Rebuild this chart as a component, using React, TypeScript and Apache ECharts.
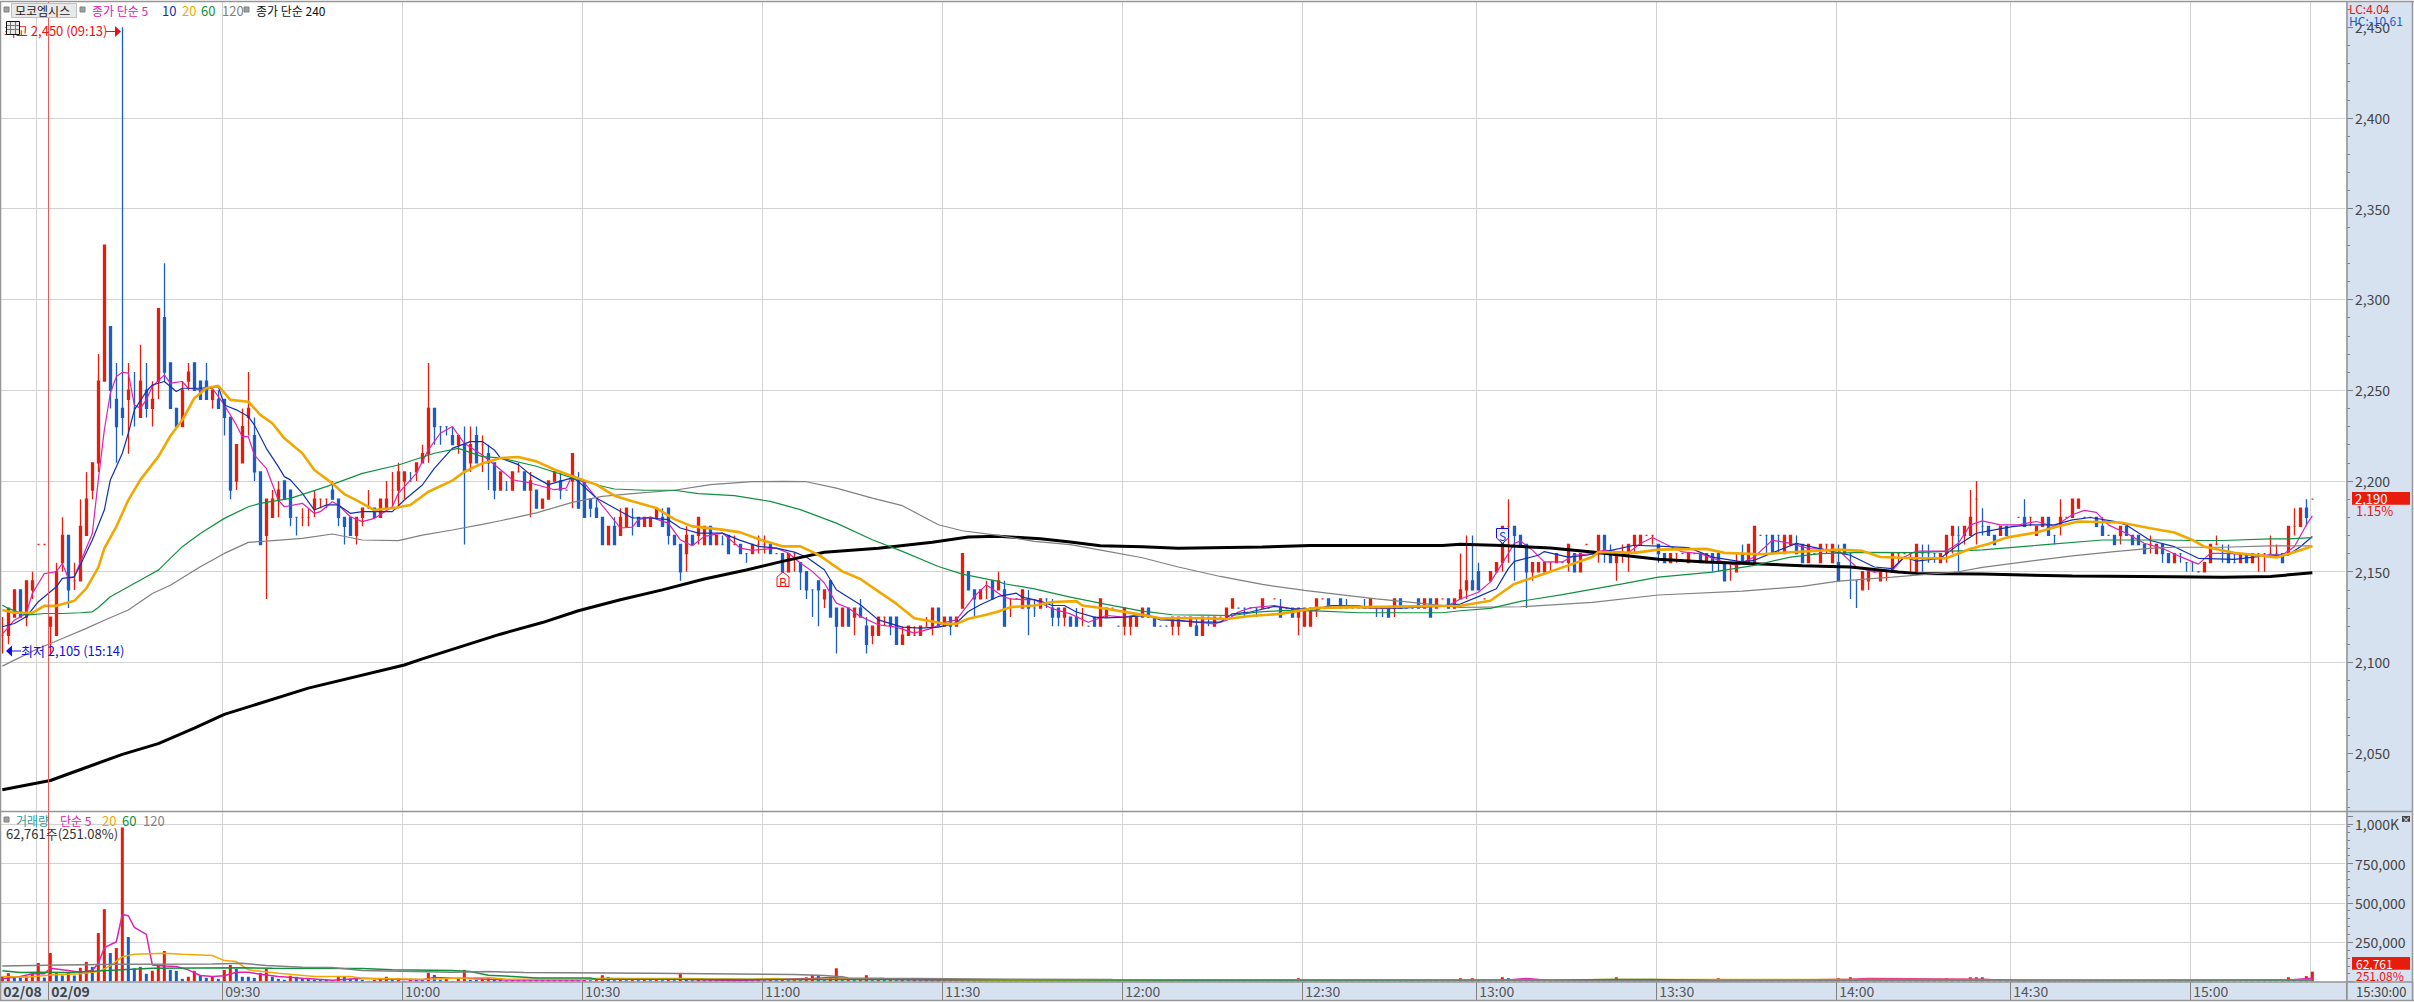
import React, { useEffect, useRef } from "react";
import * as echarts from "echarts";

// [open, close, high, low], ten bars per line
const candles: number[][] = [
[2115,2115,2125,2105],[2115,2130,2130,2110],[2125,2140,2140,2125],[2140,2125,2140,2125],[2125,2145,2145,2120],[2140,2145,2150,2135],[2165,2165,2165,2165],[2165,2165,2165,2165],[2120,2125,2125,2105],[2115,2150,2155,2115],
[2155,2170,2180,2150],[2170,2140,2170,2130],[2145,2145,2155,2140],[2145,2175,2190,2145],[2170,2190,2205,2170],[2195,2210,2210,2190],[2210,2255,2270,2205],[2255,2330,2330,2255],[2285,2250,2285,2240],[2245,2230,2265,2210],
[2240,2235,2450,2225],[2245,2250,2265,2215],[2240,2240,2260,2230],[2235,2255,2275,2235],[2250,2240,2265,2235],[2240,2245,2255,2230],[2255,2295,2295,2245],[2290,2260,2320,2255],[2265,2240,2265,2240],[2240,2230,2240,2230],
[2230,2250,2255,2230],[2255,2260,2265,2250],[2265,2250,2265,2250],[2255,2245,2255,2245],[2255,2245,2265,2245],[2245,2250,2250,2240],[2245,2240,2250,2240],[2245,2235,2245,2225],[2235,2195,2235,2190],[2200,2220,2220,2195],
[2210,2230,2240,2210],[2235,2240,2260,2225],[2225,2205,2235,2200],[2205,2165,2205,2165],[2170,2190,2190,2135],[2180,2190,2195,2180],[2190,2195,2200,2180],[2200,2190,2200,2190],[2195,2180,2195,2175],[2180,2180,2180,2170],
[2180,2180,2185,2175],[2180,2180,2185,2175],[2185,2190,2195,2180],[2190,2190,2190,2185],[2190,2190,2190,2185],[2195,2190,2200,2190],[2190,2180,2190,2175],[2180,2175,2180,2165],[2180,2170,2180,2170],[2170,2180,2180,2165],
[2180,2185,2185,2175],[2185,2185,2195,2185],[2185,2180,2185,2180],[2180,2190,2190,2180],[2185,2190,2200,2185],[2195,2195,2205,2185],[2195,2205,2210,2185],[2200,2205,2205,2190],[2200,2200,2205,2200],[2205,2210,2210,2200],
[2210,2215,2220,2210],[2215,2240,2265,2210],[2240,2230,2240,2220],[2230,2230,2230,2220],[2230,2230,2230,2225],[2225,2220,2230,2220],[2220,2225,2225,2215],[2220,2205,2230,2165],[2210,2220,2230,2205],[2225,2210,2230,2210],
[2220,2220,2225,2205],[2215,2210,2220,2195],[2210,2195,2210,2190],[2195,2205,2205,2195],[2195,2195,2200,2195],[2195,2205,2205,2195],[2205,2205,2210,2205],[2205,2195,2205,2195],[2195,2200,2205,2180],[2195,2185,2195,2185],
[2185,2190,2190,2185],[2190,2200,2200,2190],[2200,2205,2205,2200],[2200,2195,2205,2190],[2195,2195,2195,2195],[2200,2215,2215,2185],[2200,2185,2205,2185],[2200,2180,2200,2180],[2190,2185,2190,2180],[2185,2180,2190,2180],
[2180,2165,2180,2165],[2165,2175,2175,2165],[2175,2165,2180,2165],[2170,2180,2185,2170],[2175,2185,2185,2175],[2180,2180,2185,2170],[2180,2175,2180,2175],[2175,2180,2180,2175],[2175,2180,2180,2175],[2180,2185,2185,2180],
[2180,2175,2185,2175],[2185,2170,2185,2165],[2170,2165,2170,2165],[2165,2150,2165,2145],[2160,2170,2175,2150],[2170,2165,2170,2165],[2170,2180,2180,2165],[2165,2175,2175,2165],[2175,2165,2175,2165],[2165,2170,2170,2165],
[2165,2165,2170,2165],[2170,2160,2170,2160],[2165,2165,2170,2165],[2165,2160,2165,2160],[2160,2160,2160,2155],[2160,2165,2165,2160],[2165,2165,2170,2160],[2165,2165,2170,2160],[2165,2160,2165,2160],[2160,2160,2160,2160],
[2160,2150,2160,2150],[2150,2160,2160,2150],[2160,2160,2160,2150],[2155,2150,2155,2140],[2150,2140,2150,2135],[2140,2140,2140,2125],[2145,2140,2145,2120],[2135,2140,2140,2130],[2145,2125,2145,2125],[2130,2120,2130,2105],
[2120,2130,2130,2120],[2130,2120,2130,2120],[2125,2130,2130,2115],[2130,2125,2135,2125],[2120,2110,2125,2105],[2115,2120,2120,2110],[2115,2125,2125,2115],[2125,2125,2125,2120],[2125,2120,2125,2115],[2125,2110,2125,2110],
[2110,2115,2120,2110],[2115,2120,2120,2115],[2115,2115,2120,2115],[2115,2120,2120,2115],[2120,2120,2125,2120],[2120,2130,2130,2115],[2130,2120,2130,2120],[2120,2125,2125,2120],[2125,2120,2125,2115],[2120,2125,2125,2120],
[2130,2160,2160,2130],[2150,2140,2150,2140],[2140,2135,2140,2125],[2135,2140,2140,2135],[2140,2140,2145,2135],[2145,2135,2145,2135],[2140,2145,2150,2140],[2140,2120,2145,2120],[2135,2135,2135,2125],[2135,2135,2135,2135],
[2130,2140,2140,2130],[2135,2130,2140,2115],[2130,2130,2135,2125],[2130,2135,2135,2130],[2135,2135,2135,2130],[2130,2125,2135,2120],[2130,2125,2130,2120],[2125,2130,2130,2120],[2125,2120,2125,2120],[2125,2120,2130,2120],
[2125,2125,2130,2120],[2120,2120,2120,2120],[2125,2120,2125,2120],[2120,2135,2135,2120],[2125,2130,2130,2125],[2130,2130,2130,2130],[2120,2120,2120,2120],[2120,2130,2130,2115],[2120,2125,2125,2115],[2120,2125,2125,2120],
[2125,2130,2130,2125],[2130,2125,2130,2125],[2125,2120,2125,2120],[2120,2120,2120,2120],[2120,2120,2120,2120],[2120,2125,2125,2115],[2120,2125,2125,2115],[2125,2125,2125,2125],[2120,2125,2125,2120],[2120,2115,2125,2115],
[2115,2125,2125,2115],[2125,2125,2125,2120],[2120,2125,2125,2120],[2125,2125,2125,2125],[2125,2130,2130,2125],[2130,2135,2135,2130],[2130,2130,2130,2130],[2130,2130,2130,2125],[2130,2130,2130,2130],[2130,2130,2130,2125],
[2130,2135,2135,2130],[2130,2130,2130,2130],[2135,2135,2135,2135],[2130,2125,2135,2125],[2130,2130,2130,2130],[2130,2125,2130,2125],[2125,2130,2130,2115],[2120,2130,2130,2120],[2120,2130,2130,2120],[2130,2135,2135,2125],
[2135,2135,2135,2135],[2135,2130,2135,2130],[2130,2130,2130,2130],[2135,2130,2135,2130],[2130,2130,2135,2130],[2130,2130,2130,2130],[2130,2130,2130,2130],[2130,2130,2135,2130],[2130,2135,2135,2130],[2130,2130,2130,2125],
[2130,2130,2130,2125],[2130,2125,2130,2125],[2130,2135,2135,2125],[2135,2130,2135,2130],[2130,2130,2130,2130],[2130,2130,2130,2130],[2135,2130,2135,2130],[2130,2135,2135,2130],[2135,2125,2135,2125],[2130,2135,2135,2130],
[2135,2135,2135,2135],[2135,2130,2135,2130],[2130,2135,2135,2130],[2135,2140,2160,2135],[2140,2145,2170,2135],[2145,2140,2170,2140],[2150,2140,2155,2140],[2135,2135,2135,2135],[2145,2150,2150,2145],[2150,2155,2155,2150],
[2155,2175,2175,2150],[2175,2175,2190,2155],[2175,2170,2175,2145],[2170,2165,2170,2165],[2165,2150,2165,2130],[2150,2155,2155,2145],[2150,2155,2155,2150],[2150,2155,2155,2150],[2155,2155,2155,2150],[2155,2160,2160,2155],
[2155,2155,2155,2155],[2155,2165,2165,2150],[2160,2150,2160,2150],[2150,2160,2160,2150],[2165,2165,2165,2165],[2160,2160,2160,2160],[2160,2170,2170,2155],[2170,2160,2170,2155],[2160,2155,2165,2155],[2155,2160,2160,2145],
[2160,2160,2165,2155],[2160,2165,2165,2150],[2165,2170,2170,2160],[2165,2170,2170,2165],[2170,2170,2170,2170],[2170,2170,2170,2165],[2165,2160,2165,2155],[2160,2155,2160,2155],[2155,2160,2160,2155],[2160,2160,2160,2155],
[2160,2160,2160,2160],[2155,2160,2160,2155],[2160,2160,2160,2160],[2160,2155,2160,2155],[2155,2160,2160,2155],[2160,2155,2160,2150],[2160,2155,2160,2150],[2155,2145,2155,2145],[2155,2155,2155,2145],[2150,2155,2160,2150],
[2160,2155,2165,2155],[2155,2165,2165,2155],[2155,2175,2175,2155],[2170,2170,2170,2170],[2170,2170,2170,2160],[2170,2160,2170,2160],[2170,2170,2170,2160],[2160,2170,2170,2160],[2165,2170,2170,2165],[2165,2160,2170,2160],
[2165,2155,2165,2155],[2155,2165,2165,2155],[2160,2160,2160,2160],[2155,2165,2165,2155],[2165,2165,2165,2160],[2155,2165,2165,2155],[2155,2145,2165,2145],[2165,2160,2165,2160],[2160,2160,2160,2135],[2145,2145,2145,2130],
[2140,2150,2150,2140],[2145,2150,2150,2140],[2150,2150,2150,2150],[2145,2150,2150,2145],[2150,2150,2150,2145],[2150,2160,2160,2150],[2160,2160,2160,2155],[2160,2160,2160,2160],[2160,2160,2160,2150],[2150,2165,2165,2150],
[2160,2160,2165,2150],[2160,2160,2165,2155],[2160,2160,2160,2155],[2155,2160,2160,2155],[2160,2170,2170,2155],[2170,2175,2175,2160],[2170,2170,2175,2150],[2170,2175,2175,2165],[2170,2180,2195,2170],[2190,2190,2200,2165],
[2175,2175,2185,2170],[2175,2170,2175,2170],[2170,2165,2170,2165],[2170,2175,2175,2170],[2175,2170,2175,2170],[2175,2175,2175,2175],[2180,2180,2180,2180],[2180,2175,2190,2175],[2180,2180,2180,2175],[2170,2175,2175,2170],
[2175,2180,2180,2175],[2180,2170,2180,2170],[2170,2170,2170,2165],[2175,2180,2190,2170],[2180,2180,2180,2180],[2180,2190,2190,2180],[2185,2190,2190,2185],[2180,2180,2180,2180],[2180,2180,2180,2180],[2180,2175,2180,2175],
[2175,2170,2180,2170],[2170,2170,2170,2170],[2170,2165,2170,2165],[2170,2175,2175,2165],[2175,2170,2175,2170],[2170,2165,2170,2165],[2170,2165,2170,2165],[2165,2160,2165,2160],[2165,2165,2170,2160],[2160,2165,2165,2160],
[2165,2160,2165,2155],[2160,2155,2160,2155],[2155,2160,2160,2155],[2160,2160,2160,2155],[2155,2155,2155,2150],[2155,2155,2155,2150],[2150,2150,2150,2150],[2150,2155,2155,2150],[2155,2165,2165,2155],[2165,2165,2170,2165],
[2160,2160,2165,2155],[2160,2155,2165,2155],[2155,2155,2160,2155],[2155,2160,2160,2155],[2160,2155,2160,2155],[2155,2160,2160,2155],[2160,2160,2160,2150],[2160,2160,2160,2150],[2160,2160,2170,2160],[2160,2160,2165,2160],
[2160,2155,2160,2155],[2160,2175,2175,2160],[2175,2175,2185,2170],[2175,2185,2185,2175],[2185,2180,2190,2175],[2190,2190,2190,2190],
];

// bars whose open equals close and which the chart draws in blue
const blueDoji = [22,49,68,73,74,84,94,105,120,124,129,135,172,174,181,186,193,194,201,206,207,208,209,211,222,224,225,226,227,229,230,234,235,260,280,293,294,296,302,308,309,320,321,322,326,330,342,347,348,351,363,364,365,366,370,372];

// volume in thousands of shares, ten bars per line
const volumesK = [
32,53,25,25,32,53,118,25,181,53,
38,59,38,87,124,93,308,460,181,213,
980,283,84,93,49,68,105,194,74,68,
17,30,68,38,23,30,17,74,105,80,
30,30,23,55,80,30,17,11,36,30,
17,17,11,11,11,4,30,30,17,17,
11,4,11,17,30,11,23,4,11,11,
11,55,42,11,17,4,17,74,11,11,
17,23,17,17,8,9,8,9,8,9,
8,9,8,9,8,9,8,9,8,9,
40,27,8,9,8,9,8,9,8,9,
8,9,8,48,15,8,15,8,9,8,
9,8,9,8,9,8,9,8,9,8,
9,8,9,8,27,42,42,8,27,84,
8,9,8,9,40,8,9,8,9,8,
9,8,9,8,9,8,9,8,9,8,
9,8,9,8,9,8,9,8,9,8,
6,7,6,7,6,7,6,7,6,7,
6,7,6,7,6,7,6,7,6,7,
4,4,4,4,4,4,4,4,4,4,
4,4,4,4,4,4,4,4,4,4,
4,4,4,4,4,4,21,4,4,4,
4,4,4,4,4,4,4,4,4,4,
4,4,4,4,4,4,4,4,4,4,
4,4,4,21,4,21,4,4,4,4,
27,21,6,6,12,6,6,4,4,4,
4,4,4,4,4,4,4,4,4,27,
4,4,4,4,4,4,4,4,4,4,
4,4,4,4,4,4,21,4,4,4,
4,4,15,4,4,4,4,4,4,4,
4,4,4,4,4,4,21,6,27,8,
6,7,6,7,6,7,6,7,6,7,
6,7,6,7,21,6,7,6,27,27,
27,8,7,8,7,6,7,6,7,6,
7,6,7,6,7,6,7,6,7,6,
7,6,7,6,7,6,7,6,7,6,
7,6,7,6,7,6,7,6,7,6,
7,6,7,6,7,6,7,6,7,6,
7,27,6,7,34,62.761,
];

// moving averages as [bar, price]
const ma5 = [[0,2115.6],[2,2123.3],[4,2127],[5,2138],[7,2149],[9,2150],[10,2154.6],[11,2146.3],[12,2147.2],[15,2171.1],[16,2200.6],[17,2228.1],[18,2248.3],[19,2257.5],[20,2259.9],[21,2259.4],[22,2241.9],[23,2240],[24,2244.7],[25,2252],[27,2258.5],[28,2253.9],[30,2254.8],[31,2251.1],[33,2250.2],[35,2251.1],[37,2241.9],[39,2230.9],[40,2224.4],[41,2224.4],[42,2214.3],[44,2207],[46,2189.5],[47,2185.8],[50,2187.7],[52,2182.2],[53,2183.1],[55,2188.6],[56,2186.8],[58,2180.3],[60,2177.6],[62,2179.4],[65,2185.8],[66,2193.2],[69,2204.2],[71,2217.1],[73,2226.3],[75,2230],[77,2220.8],[80,2214.3],[83,2206.3],[85,2200.7],[88,2198.9],[92,2195.2],[94,2196.1],[95,2203.5],[97,2198.9],[99,2190.6],[101,2182.4],[103,2174.1],[105,2174.6],[106,2178.7],[108,2180.1],[111,2176.8],[113,2167.6],[115,2164.3],[117,2169.5],[120,2171.3],[123,2163],[125,2161.8],[129,2163],[131,2160.3],[133,2154.8],[135,2150.2],[137,2143.8],[139,2132.7],[141,2130],[143,2125.4],[146,2120.8],[149,2119.5],[152,2116.2],[155,2118.9],[157,2122],[159,2123.5],[162,2136.4],[164,2142.8],[166,2138.2],[167,2136],[168,2135.1],[170,2134.6],[172,2134.6],[175,2129.6],[178,2126.8],[181,2122.2],[184,2125.9],[187,2125],[190,2126.8],[192,2125],[195,2123.2],[199,2122.2],[202,2121.3],[204,2123.2],[206,2127.8],[208,2130.1],[212,2131.4],[216,2129],[219,2128.7],[221,2131.4],[226,2131.4],[229,2129.6],[232,2130.1],[238,2130.9],[241,2131.4],[243,2135],[246,2138.7],[248,2144.3],[250,2154.6],[252,2165.6],[253,2167],[255,2161.9],[257,2155.4],[260,2155.4],[262,2159.1],[265,2160],[267,2161.9],[271,2160.4],[273,2165.6],[275,2168.9],[277,2165.6],[280,2160.9],[283,2160],[286,2156.3],[289,2153.5],[292,2158.1],[295,2167.4],[298,2165.6],[301,2162.8],[306,2161.9],[309,2152.6],[312,2149.8],[315,2150.7],[317,2158.1],[319,2161.4],[324,2161.4],[326,2165.7],[328,2175.8],[330,2178],[333,2175.8],[336,2175.8],[339,2177.7],[342,2174.9],[345,2181.4],[347,2183.8],[349,2182.7],[351,2175.8],[354,2171.2],[357,2165.7],[360,2162.9],[363,2158.3],[366,2154.2],[368,2160.1],[371,2160.1],[375,2159.2],[380,2159.2],[382,2163.8],[384,2175.8],[385,2180.8]];
const ma10 = [[0,2119.7],[2,2121.5],[4,2125.2],[6,2133.5],[7,2136.2],[9,2141.7],[10,2146.3],[12,2147.2],[13,2153.7],[15,2167.5],[17,2184],[18,2200.6],[19,2207.9],[20,2215.3],[21,2226.3],[22,2239.2],[24,2249.3],[25,2252.9],[27,2254.8],[29,2249.3],[30,2251.1],[33,2251.1],[36,2252],[37,2241.9],[39,2239.2],[41,2235.5],[42,2230.9],[44,2218],[46,2207.9],[47,2202.4],[48,2200.6],[50,2193.2],[52,2184],[54,2186.8],[56,2186.8],[58,2182.2],[60,2183.1],[65,2183.1],[67,2189.5],[70,2197.8],[72,2207],[75,2218],[78,2221.7],[80,2221.7],[82,2217.1],[83,2212.7],[86,2209],[88,2203.5],[91,2198],[95,2201.7],[96,2199.8],[99,2190.6],[102,2185.1],[105,2179.6],[108,2179.6],[111,2178.7],[113,2174.1],[116,2171.3],[120,2171.3],[123,2167.3],[126,2164],[129,2163],[132,2160.8],[134,2158.1],[137,2151.1],[139,2140.1],[143,2131.8],[146,2123.5],[150,2119.5],[153,2118.9],[156,2119.5],[159,2121.7],[161,2128.1],[163,2131.8],[166,2136.4],[167,2137],[169,2138.2],[170,2136],[173,2133.8],[175,2131.4],[177,2131.4],[179,2127.8],[182,2125],[184,2124.6],[187,2125],[191,2125.9],[193,2123.5],[196,2123.2],[199,2122.2],[203,2122.2],[205,2126.8],[208,2127.8],[212,2130.9],[215,2129.6],[219,2129.6],[222,2131.4],[227,2130.1],[233,2130],[239,2130.9],[243,2132.2],[246,2136.3],[249,2140.6],[251,2151.7],[252,2155.7],[256,2159.1],[257,2161.1],[261,2158.1],[264,2159.1],[267,2160.9],[272,2164.6],[276,2164.1],[281,2163.3],[285,2158.1],[290,2155.4],[292,2156.3],[295,2160.4],[299,2165.6],[304,2161.9],[308,2159.1],[312,2152.6],[315,2151.7],[317,2158.1],[319,2155.9],[323,2157.4],[326,2164.8],[329,2171.2],[332,2173.1],[335,2174.9],[338,2175.8],[342,2175.8],[345,2178.6],[348,2179.9],[352,2177.7],[354,2175.8],[358,2167.2],[362,2163.8],[366,2157.4],[372,2156.8],[378,2159.2],[381,2159.2],[383,2163.8],[385,2169.4]];
const ma20 = [[0,2128.9],[2,2127.4],[5,2127.4],[7,2131.2],[9,2131.2],[12,2134],[14,2140.8],[16,2152.4],[17,2162.9],[19,2174.8],[21,2189.5],[23,2200.6],[26,2213.4],[28,2224.8],[30,2233.6],[32,2245.6],[34,2251.1],[36,2252.4],[38,2244.7],[41,2243.7],[43,2236.4],[45,2231.8],[47,2223.5],[50,2215.3],[52,2206.1],[55,2198.7],[57,2192.8],[59,2189.5],[62,2184],[65,2185],[68,2186.8],[71,2194.1],[75,2200.2],[77,2205.1],[80,2209.7],[83,2212.7],[86,2213.2],[89,2210.8],[92,2206.3],[95,2202.6],[99,2198],[102,2191.9],[105,2188.8],[109,2185.1],[112,2179],[115,2175],[120,2173.2],[123,2171.7],[126,2168],[130,2164],[133,2164],[136,2159.4],[140,2150.2],[143,2146],[146,2139.2],[149,2132.4],[152,2124.4],[157,2121.3],[159,2121.3],[161,2124.1],[164,2126.3],[166,2128.1],[168,2130.5],[172,2131.4],[175,2133.3],[179,2133.8],[180,2131.4],[184,2129.6],[189,2126.8],[193,2124.4],[200,2124.4],[204,2124],[208,2125.6],[213,2126.8],[219,2130.1],[227,2130.5],[235,2130.9],[243,2131.3],[248,2134],[250,2138.7],[252,2143.3],[257,2148.9],[261,2153.5],[265,2158.1],[266,2160.9],[272,2160.4],[276,2162.2],[284,2162.6],[287,2160.4],[293,2159.6],[298,2160.7],[306,2162.2],[310,2161.5],[313,2158.1],[319,2157.4],[324,2157.4],[328,2162.7],[331,2165.3],[334,2168.8],[339,2171.6],[343,2175.3],[346,2177.7],[353,2177.1],[358,2174],[362,2171.6],[365,2167.5],[367,2163.8],[372,2160.5],[379,2157.9],[381,2159.8],[384,2162.9],[385,2164.2]];
const ma60 = [[0,2131.6],[1,2129.8],[4,2126.1],[7,2127],[10,2127],[13,2127.4],[15,2127.9],[16,2130.3],[18,2136.2],[21,2141.7],[24,2147.2],[26,2150.9],[30,2163.8],[33,2171.1],[37,2179.4],[41,2185.8],[43,2187.7],[48,2190.4],[54,2196.9],[60,2204.2],[66,2208.8],[72,2215.3],[76,2218],[80,2213.4],[83,2212.7],[89,2208.1],[95,2201.7],[100,2197.1],[102,2195.6],[107,2194.9],[112,2194.9],[116,2193],[122,2191.9],[128,2188.8],[133,2184.2],[139,2176.8],[145,2167.6],[150,2161.2],[156,2152.9],[160,2148.7],[166,2144.7],[167,2143.4],[172,2140.6],[178,2136],[184,2132],[190,2128.3],[195,2126.3],[200,2126.1],[205,2125.9],[209,2127.8],[214,2128.7],[220,2128.3],[226,2127.4],[240,2127.4],[243,2128.5],[248,2129.8],[253,2133.7],[260,2137.4],[270,2143.3],[276,2147],[285,2149.8],[292,2153.5],[298,2158.1],[303,2160],[310,2160.7],[319,2160.5],[330,2162],[340,2164.8],[350,2167.5],[360,2167.5],[365,2167.2],[370,2167.2],[378,2168.1],[381,2168.1],[385,2168.8]];
const ma120 = [[0,2098],[2,2101.3],[6,2107.7],[10,2113.2],[14,2118.8],[17,2123.3],[21,2128.9],[25,2138],[28,2142.6],[33,2152.8],[37,2160.1],[41,2166.2],[44,2166.9],[50,2168.4],[55,2170.8],[60,2167.5],[66,2167.1],[70,2170.2],[75,2173],[80,2176.1],[83,2178.1],[89,2182.4],[95,2188.2],[100,2191.5],[105,2193],[112,2194.9],[118,2198],[125,2199.6],[130,2199.8],[134,2199.6],[139,2196.1],[145,2190.6],[150,2186.4],[156,2175.9],[160,2172.6],[166,2170],[172,2166.7],[178,2164.9],[184,2161.4],[190,2157.7],[196,2152.6],[203,2147.4],[210,2143],[217,2139.7],[224,2137],[229,2135.1],[237,2132.4],[243,2130.4],[253,2130.7],[265,2133.1],[276,2137.2],[290,2139.3],[300,2141.9],[306,2144.8],[315,2147],[326,2150],[330,2152.4],[338,2155.9],[345,2158.7],[352,2161.1],[358,2162.9],[362,2163.5],[370,2163.5],[378,2164.2],[385,2164.2]];
const ma240 = [[0,2029.9],[8,2035],[15,2043.4],[20,2049.4],[26,2055.3],[32,2063.8],[37,2071.4],[51,2085.9],[67,2098.6],[70,2102],[83,2115.6],[90,2122],[96,2128.5],[103,2134.6],[110,2140],[117,2146],[124,2151],[130,2155.7],[137,2160.7],[146,2163],[155,2166.2],[161,2169.1],[166,2169.5],[173,2168.2],[178,2166.4],[183,2164.3],[190,2163.8],[196,2162.9],[210,2163.6],[218,2164.5],[240,2164.5],[243,2165.2],[250,2164.4],[258,2163.1],[265,2160.9],[270,2159.1],[276,2156.9],[284,2155.4],[292,2154.4],[300,2153.3],[308,2152.6],[316,2149.8],[319,2149.1],[330,2148.7],[345,2147.6],[362,2147.2],[370,2147],[378,2147.4],[385,2149.4]];

// volume moving averages as [bar, thousand shares]
const vma5 = [[0,17],[3,32],[5,49],[7,49],[8,84],[10,74],[13,59],[15,70],[16,116],[17,215],[19,253],[20,426],[21,418],[22,344],[24,300],[25,105],[27,99],[29,95],[31,74],[33,38],[35,32],[37,36],[39,59],[41,59],[43,46],[46,32],[50,21],[55,8],[60,21],[65,15],[70,11],[72,25],[75,21],[77,21],[81,15],[84,10],[96,10],[100,19],[113,15],[122,6],[135,19],[138,25],[141,19],[155,10],[164,6],[250,6],[254,19],[258,6],[287,4],[308,15],[311,19],[330,15],[336,4],[360,4],[381,10],[385,21]];
const vma20 = [[0,32],[4,27],[8,42],[13,49],[16,63],[18,99],[20,158],[22,173],[27,179],[30,173],[35,165],[37,133],[39,127],[41,74],[46,53],[52,32],[58,32],[60,21],[70,15],[81,25],[84,15],[97,15],[99,19],[113,19],[117,17],[125,15],[129,19],[131,13],[147,17],[169,6],[185,4],[199,4],[258,10],[268,13],[310,13],[330,13],[334,8],[349,6],[370,8],[385,10]];
const vma60 = [[0,68],[3,57],[6,59],[11,57],[20,74],[25,84],[40,87],[45,84],[60,82],[65,74],[75,70],[78,63],[81,40],[85,32],[89,23],[98,23],[99,15],[126,13],[168,11],[198,8],[258,8],[268,13],[275,13],[285,6],[310,8],[385,8]];
const vma120 = [[0,99],[10,105],[20,110],[35,112],[40,116],[44,101],[50,91],[55,89],[60,70],[75,59],[81,63],[87,57],[108,53],[132,44],[137,38],[140,30],[141,23],[147,21],[168,15],[185,13],[275,6],[300,6],[385,10]];

// tick labels of the time axis: the bar each sits on, and its text
const timeBars = [0, 8, 37, 67, 97, 127, 157, 187, 217, 246, 276, 306, 335, 365];
const timeLabels = ["02/08", "02/09", "09:30", "10:00", "10:30", "11:00", "11:30", "12:00", "12:30", "13:00", "13:30", "14:00", "14:30", "15:00"];
const extraGridBars = [6, 385];

const priceTicks = [2050, 2100, 2150, 2200, 2250, 2300, 2350, 2400, 2450];

const RED = "#e81c0c";
const BLUE = "#1a5cc8";
const PANEL = "#d6e2f0";
const EDGE = "#969696";
const GRIDLINE = "#d2d2d2";
const LATIN = '"Liberation Sans Narrow","Noto Sans CJK KR"';

const BAR_COUNT = 391;
const barNames = Array.from({ length: BAR_COUNT }, (_, i) => String(i));
const gridCategories = barNames.map((n, i) => {
  const at = timeBars.indexOf(i);
  if (at < 0) return { value: "" };
  return at < 2
    ? { value: timeLabels[at], textStyle: { fontWeight: "bold", fontSize: 14, color: "#444", align: "left", fontFamily: LATIN } }
    : { value: timeLabels[at] };
});

function text(x: number, y: number, s: string, fill: string, size = 13, align = "left") {
  return {
    type: "text", x, y, z: 60, silent: true,
    style: { text: s, fill, font: `${size}px ${LATIN}`, textAlign: align, textVerticalAlign: "middle" },
  };
}
function rect(x: number, y: number, w: number, h: number, fill: string, z = 60, stroke?: string) {
  return { type: "rect", z, silent: true, shape: { x, y, width: w, height: h }, style: { fill, stroke, lineWidth: stroke ? 1 : 0 } };
}
function hv(x1: number, y1: number, x2: number, y2: number, stroke: string, z = 55, lineWidth = 1) {
  return { type: "line", z, silent: true, shape: { x1, y1, x2, y2 }, style: { stroke, lineWidth } };
}
function poly(points: number[][], fill: string, stroke?: string, z = 60) {
  return { type: "polygon", z, silent: true, shape: { points }, style: { fill, stroke, lineWidth: stroke ? 1 : 0 } };
}
function legendSquare(x: number, y: number) {
  return rect(x, y, 5, 5, "#a0a0a0", 60, "#808080");
}

const graphicElements: any[] = [
  rect(2347, 1, 66, 981, PANEL, -1),
  rect(0, 982, 2414, 19, PANEL, -1),
  hv(48.5, 1, 48.5, 982, "#e85a5a", 40),
  hv(0, 1.5, 2414, 1.5, EDGE, 55, 1.5),
  hv(0.5, 1, 0.5, 1001, EDGE, 55, 1.5),
  hv(2412.5, 1, 2412.5, 1001, EDGE, 55, 1.5),
  hv(0, 1000.5, 2414, 1000.5, EDGE, 55, 1.5),
  hv(0, 811.5, 2413, 811.5, EDGE, 55, 1.5),
  hv(0, 982, 2413, 982, EDGE, 55, 1.5),
  hv(2347, 1, 2347, 1001, EDGE, 55, 1.5),

  legendSquare(4, 7),
  rect(11.5, 3.5, 65, 14, "#e9e9e9", 60, "#c0c0c0"),
  text(15, 10.5, "모코엠시스", "#222", 12),
  legendSquare(80, 7),
  text(92, 10.5, "종가 단순 5", "#e020b0", 12),
  text(162, 10.5, "10", "#1030b0", 13),
  text(182, 10.5, "20", "#f0a800", 13),
  text(201, 10.5, "60", "#109040", 13),
  text(222, 10.5, "120", "#808080", 13),
  legendSquare(244, 7),
  text(256, 10.5, "종가 단순 240", "#111", 12),

  text(4, 30.5, "최고 2,450 (09:13)", "#f01010", 13),
  hv(106, 31.5, 116, 31.5, "#f01010", 60),
  poly([[115, 26], [121, 31.5], [115, 37]], "#f01010"),
  rect(6.5, 21.5, 13, 13, "#e8e8e8", 62, "#111"),
  hv(7, 25.5, 19, 25.5, "#777", 63),
  hv(7, 29.5, 19, 29.5, "#777", 63),
  hv(10.5, 22, 10.5, 34, "#777", 63),
  hv(15.5, 22, 15.5, 34, "#777", 63),

  poly([[6, 651], [12, 645.5], [12, 656.5]], "#1010e0"),
  hv(12, 651, 21, 651, "#1010e0", 60),
  text(21, 650.5, "최저 2,105 (15:14)", "#1010e0", 13),

  poly([[783, 572], [789, 577], [789, 586.5], [777, 586.5], [777, 577]], "#fff", "#f01010"),
  text(783, 581, "B", "#f01010", 12, "center"),
  poly([[1496.5, 528.5], [1508.5, 528.5], [1508.5, 538], [1502.5, 543.5], [1496.5, 538]], "#eef0ff", "#1010e0"),
  text(1502.5, 535, "S", "#2040d0", 12, "center"),

  text(2349, 8, "LC:4.04", "#f01010", 12),
  text(2349, 20.5, "HC:-10.61", "#1a5cc8", 12),

  rect(2352, 492, 58, 12.7, RED),
  text(2355, 498.3, "2,190", "#fff", 13),
  text(2356, 510.5, "1.15%", "#f01010", 13),

  text(16, 820, "거래량", "#2a9a9a", 12),
  legendSquare(4, 817),
  text(60, 820, "단순 5", "#e020b0", 12),
  text(102, 820, "20", "#f0a800", 13),
  text(122, 820, "60", "#109040", 13),
  text(143, 820, "120", "#808080", 13),
  text(6, 833.5, "62,761주(251.08%)", "#333", 13),

  rect(2352, 957, 58, 12.7, RED),
  text(2356, 963, "62,761", "#fff", 12),
  text(2356, 975, "251.08%", "#f01010", 12),

  rect(2402, 816, 8, 6, "#444"),
  text(2406, 819, "×", "#fff", 9, "center"),

  text(2356, 991.5, "15:30:00", "#444", 13),
];

const candleRows = candles.map((row, i) => {
  const [o, c, h, l] = row;
  const item: any = { value: [o, c, l, h] };
  if (o === c) {
    const colour = blueDoji.includes(i) ? BLUE : RED;
    item.itemStyle = { color: colour, color0: colour, borderColor: colour, borderColor0: colour };
  }
  return item;
});

// a volume bar is red when it is larger than the one before it, blue otherwise
const volumeRows = volumesK.map((v, i) => ({
  value: v * 1000,
  itemStyle: { color: i === 0 || v > volumesK[i - 1] ? RED : BLUE },
}));

function maSeries(name: string, data: number[][], color: string, width: number, xi: number, scale = 1) {
  return {
    type: "line", name, xAxisIndex: xi, yAxisIndex: xi, symbol: "none", silent: true, z: 5,
    data: data.map(([k, v]) => [k, v * scale]),
    lineStyle: { color, width },
  };
}

const option: any = {
  animation: false,
  backgroundColor: "#ffffff",
  textStyle: { fontFamily: LATIN },
  grid: [
    { left: -0.67, top: 2, width: 2346, height: 842, outerBoundsMode: "none" },
    { left: -0.67, top: 816.4, width: 2346, height: 165.1, outerBoundsMode: "none" },
    { left: 0.33, top: 2, width: 2346, height: 980, outerBoundsMode: "none" },
  ],
  xAxis: [
    { type: "category", gridIndex: 0, data: barNames, show: false, boundaryGap: true },
    { type: "category", gridIndex: 1, data: barNames, show: false, boundaryGap: true },
    {
      type: "category", gridIndex: 2, data: gridCategories, boundaryGap: true, position: "bottom",
      axisLine: { show: false },
      axisTick: {
        show: true, length: 19, lineStyle: { color: "#808080", width: 1 },
        interval: (i: number) => timeBars.includes(i) && i !== 0,
      },
      axisLabel: {
        show: true, interval: (i: number) => timeBars.includes(i), align: "left", margin: 2,
        fontFamily: LATIN, fontSize: 14, color: "#555", hideOverlap: false,
      },
      splitLine: {
        show: true, lineStyle: { color: GRIDLINE, width: 1 },
        interval: (i: number) => i !== 0 && (timeBars.includes(i) || extraGridBars.includes(i)),
      },
    },
  ],
  yAxis: [
    {
      type: "value", gridIndex: 0, position: "right", offset: 1.67, min: 2000, max: 2463.9, interval: 50,
      axisLine: { show: false },
      axisTick: { show: true, length: 6, customValues: priceTicks, lineStyle: { color: "#808080" } },
      minorTick: { show: true, splitNumber: 5, length: 3, lineStyle: { color: "#808080" } },
      axisLabel: {
        margin: 8, color: "#444", fontFamily: LATIN, fontSize: 14, showMinLabel: false, showMaxLabel: false,
        formatter: (v: number) => (v % 50 === 0 && v > 2000 ? v.toLocaleString("en-US") : ""),
      },
      splitLine: { show: true, showMinLine: false, showMaxLine: false, lineStyle: { color: GRIDLINE, width: 1 } },
    },
    {
      type: "value", gridIndex: 1, position: "right", offset: 1.67, min: 0, max: 1050000, interval: 250000,
      axisLine: { show: false },
      axisTick: { show: true, length: 6, lineStyle: { color: "#808080" } },
      minorTick: { show: true, splitNumber: 5, length: 3, lineStyle: { color: "#808080" } },
      axisLabel: {
        margin: 8, color: "#444", fontFamily: LATIN, fontSize: 14, showMinLabel: false, showMaxLabel: false,
        formatter: (v: number) => (v === 1000000 ? "1,000K" : v % 250000 === 0 && v > 0 ? v.toLocaleString("en-US") : ""),
      },
      splitLine: { show: true, showMinLine: false, showMaxLine: false, lineStyle: { color: GRIDLINE, width: 1 } },
    },
    { type: "value", gridIndex: 2, show: false, min: 0, max: 1 },
  ],
  series: [
    {
      type: "candlestick", name: "모코엠시스", xAxisIndex: 0, yAxisIndex: 0, data: candleRows, barWidth: 2, silent: true, z: 3,
      itemStyle: { color: RED, color0: BLUE, borderColor: RED, borderColor0: BLUE, borderWidth: 1.3 },
    },
    maSeries("5", ma5, "#e020b0", 1.2, 0),
    maSeries("10", ma10, "#1030b0", 1.2, 0),
    maSeries("240", ma240, "#000000", 3, 0),
    maSeries("120", ma120, "#808080", 1.2, 0),
    maSeries("60", ma60, "#109040", 1.2, 0),
    maSeries("20", ma20, "#f0a800", 2.6, 0),
    { type: "bar", name: "거래량", xAxisIndex: 1, yAxisIndex: 1, data: volumeRows, barWidth: 3, silent: true, z: 3 },
    maSeries("5", vma5, "#e020b0", 1.5, 1, 1000),
    maSeries("20", vma20, "#f0a800", 1.5, 1, 1000),
    maSeries("60", vma60, "#109040", 1.5, 1, 1000),
    maSeries("120", vma120, "#808080", 1.5, 1, 1000),
  ],
  graphic: { elements: graphicElements },
};

export default function App() {
  const ref = useRef<HTMLDivElement>(null);
  useEffect(() => {
    const chart = echarts.init(ref.current!, undefined, { renderer: "svg" });
    chart.setOption(option);
    return () => chart.dispose();
  }, []);
  return <div ref={ref} style={{ position: "fixed", left: 0, top: 0, width: 2414, height: 1002 }} />;
}
